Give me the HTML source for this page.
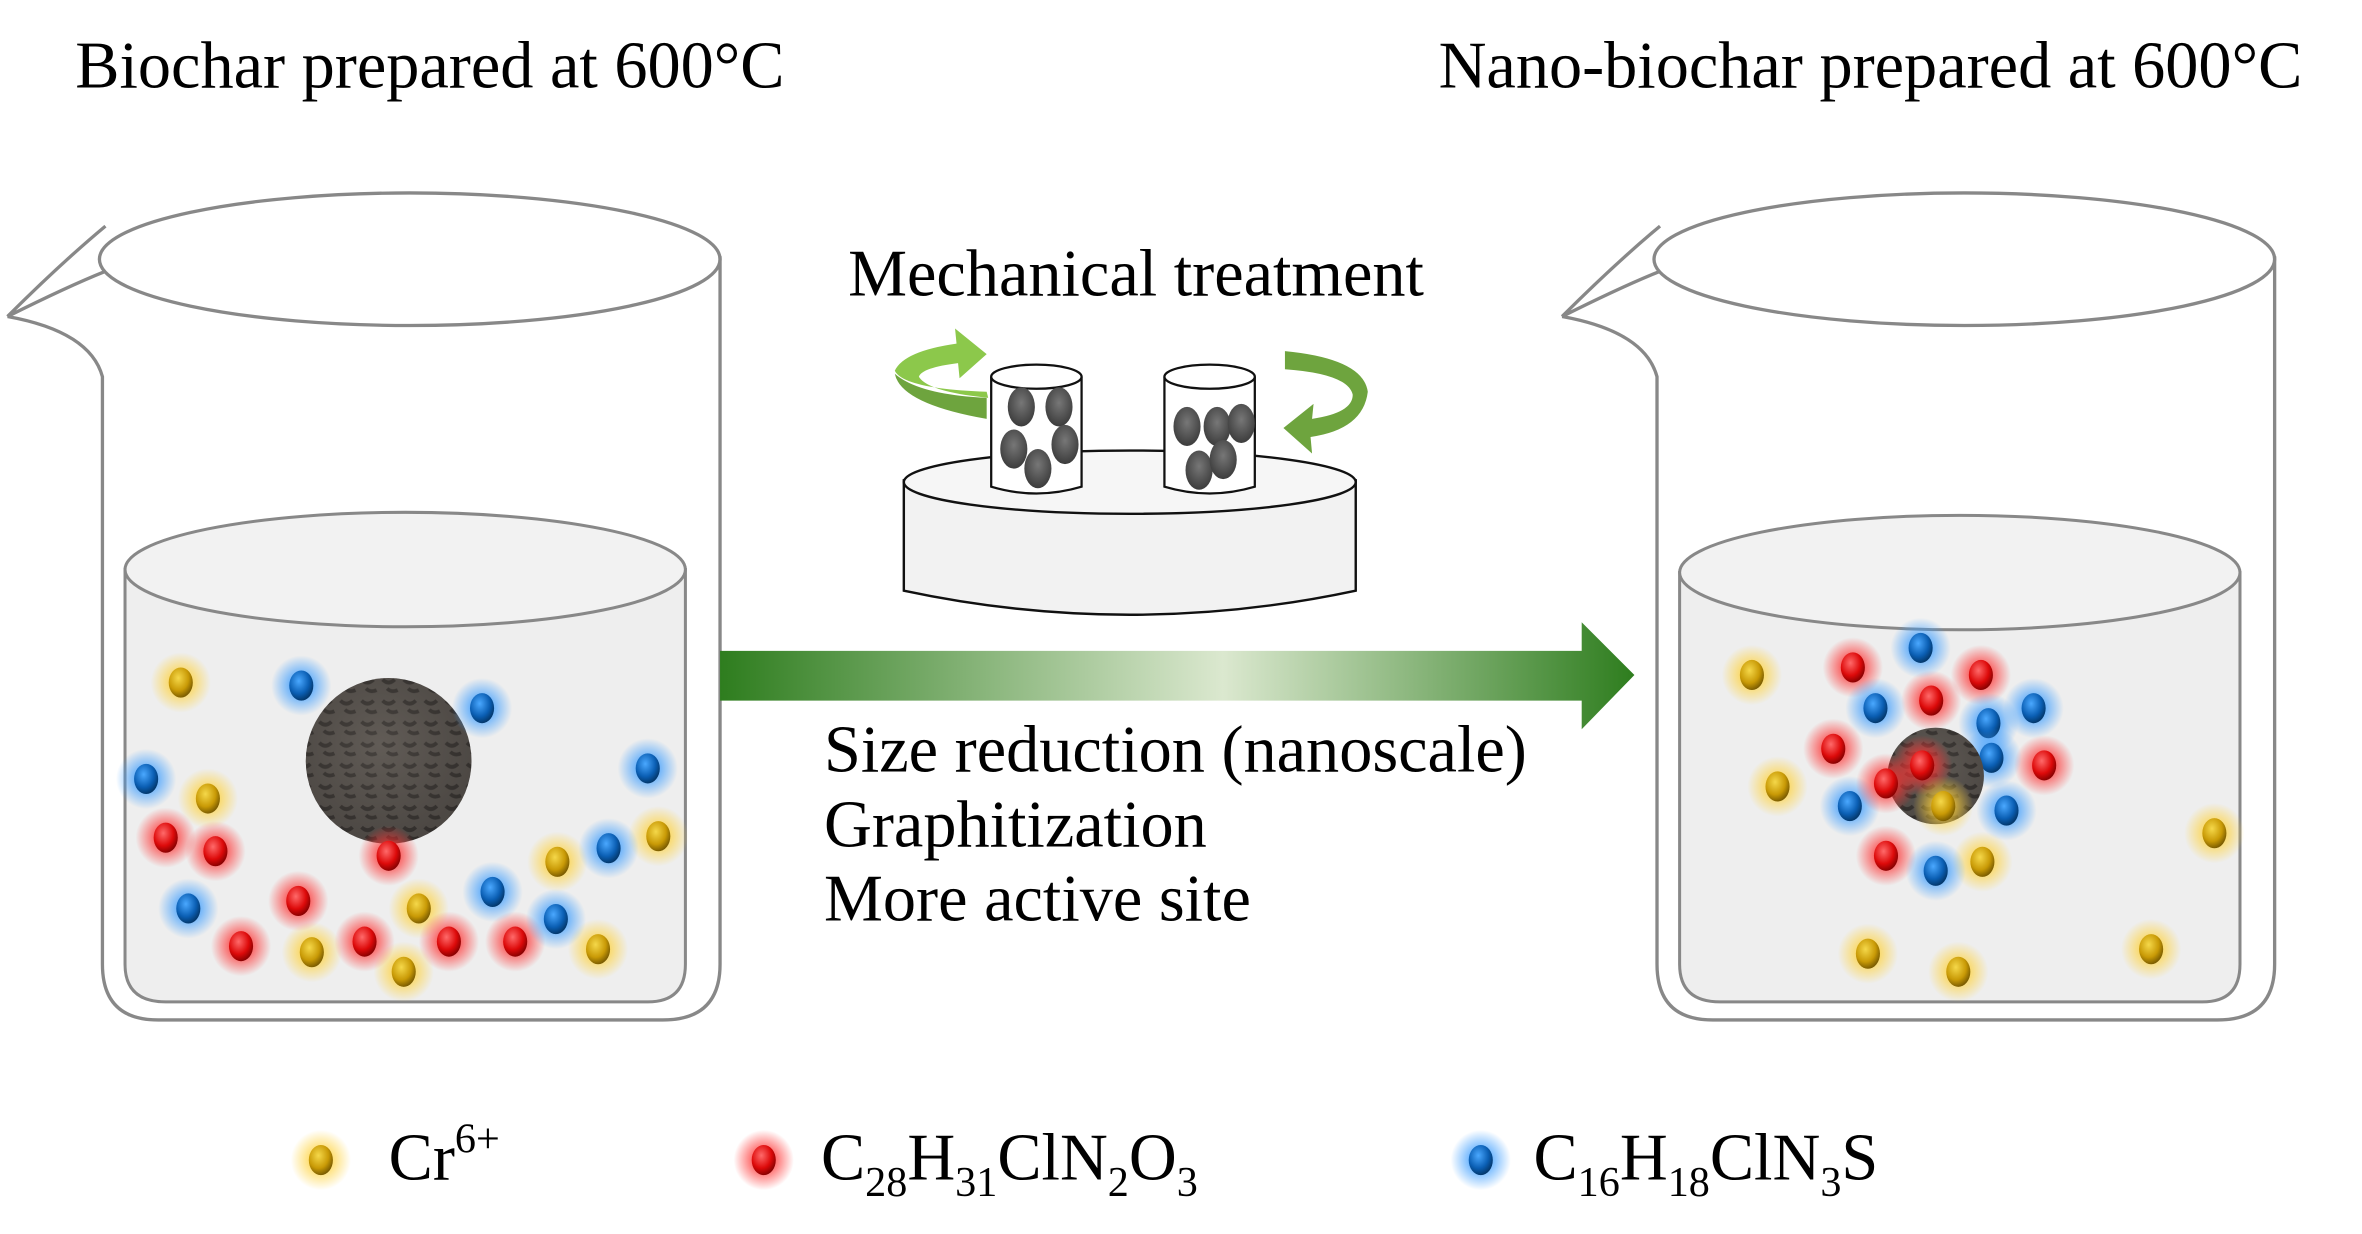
<!DOCTYPE html>
<html><head><meta charset="utf-8"><style>
html,body{margin:0;padding:0;background:#fff}
svg{display:block}
text{font-family:"Liberation Serif",serif;fill:#000}
</style></head><body>
<svg width="2362" height="1234" viewBox="0 0 1568 819" xmlns="http://www.w3.org/2000/svg">
<defs>
<linearGradient id="arr" x1="0" x2="1" y1="0" y2="0">
<stop offset="0" stop-color="#2e7d1e"/><stop offset="0.55" stop-color="#dbe8cf"/><stop offset="1" stop-color="#2e7d1e"/>
</linearGradient>
<radialGradient id="gy" cx="0.4" cy="0.35" r="0.7"><stop offset="0" stop-color="#f5d84a"/><stop offset="0.6" stop-color="#c99a06"/><stop offset="1" stop-color="#6e5200"/></radialGradient>
<radialGradient id="gr" cx="0.4" cy="0.35" r="0.7"><stop offset="0" stop-color="#ff6a6a"/><stop offset="0.6" stop-color="#dd0a0a"/><stop offset="1" stop-color="#7a0000"/></radialGradient>
<radialGradient id="gb" cx="0.4" cy="0.35" r="0.7"><stop offset="0" stop-color="#4aa8ff"/><stop offset="0.6" stop-color="#0b5fb4"/><stop offset="1" stop-color="#02315f"/></radialGradient>
<radialGradient id="hy"><stop offset="0.3" stop-color="#ffd23a" stop-opacity="0.8"/><stop offset="1" stop-color="#ffd23a" stop-opacity="0"/></radialGradient>
<radialGradient id="hr"><stop offset="0.3" stop-color="#ff3030" stop-opacity="0.8"/><stop offset="1" stop-color="#ff3030" stop-opacity="0"/></radialGradient>
<radialGradient id="hb"><stop offset="0.3" stop-color="#3a9cff" stop-opacity="0.8"/><stop offset="1" stop-color="#3a9cff" stop-opacity="0"/></radialGradient>
<g id="Y"><circle r="20" fill="url(#hy)"/><ellipse rx="8" ry="10" fill="url(#gy)"/></g>
<g id="R"><circle r="20" fill="url(#hr)"/><ellipse rx="8" ry="10" fill="url(#gr)"/></g>
<g id="B"><circle r="20" fill="url(#hb)"/><ellipse rx="8" ry="10" fill="url(#gb)"/></g>
<radialGradient id="char" cx="0.45" cy="0.4" r="0.6"><stop offset="0" stop-color="#6a645e"/><stop offset="1" stop-color="#3a3633"/></radialGradient>
<pattern id="pores" width="14" height="14" patternUnits="userSpaceOnUse"><rect width="14" height="14" fill="#5a5550"/><path d="M2 3 q4 4 8 0 M5 9 q3 3 7 1" stroke="#2a2725" stroke-width="2.5" fill="none"/></pattern>
<radialGradient id="ball" cx="0.5" cy="0.4" r="0.6"><stop offset="0" stop-color="#777"/><stop offset="1" stop-color="#3c3c3c"/></radialGradient>
</defs>

<text x="50" y="58" font-size="44">Biochar prepared at 600°C</text>
<text x="955" y="58" font-size="44">Nano-biochar prepared at 600°C</text>

<!-- left beaker -->
<g fill="none" stroke="#888" stroke-width="2.2">
<ellipse cx="272" cy="172" rx="206" ry="44"/>
<path d="M70,150 Q40,175 5,210 Q45,190 70,180"/>
<path d="M5,210 Q60,220 68,250 L68,640 Q68,677 105,677 L440,677 Q478,677 478,640 L478,170"/>
</g>
<path d="M83,378 L83,640 Q83,665 110,665 L430,665 Q455,665 455,640 L455,378 Z" fill="#eeeeee" stroke="#888" stroke-width="2"/>
<ellipse cx="269" cy="378" rx="186" ry="38" fill="#f2f2f2" stroke="#888" stroke-width="2"/>

<!-- right beaker -->
<g fill="none" stroke="#888" stroke-width="2.2">
<ellipse cx="1304" cy="172" rx="206" ry="44"/>
<path d="M1102,150 Q1072,175 1037,210 Q1077,190 1102,180"/>
<path d="M1037,210 Q1092,220 1100,250 L1100,640 Q1100,677 1137,677 L1472,677 Q1510,677 1510,640 L1510,170"/>
</g>
<path d="M1115,380 L1115,640 Q1115,665 1142,665 L1462,665 Q1487,665 1487,640 L1487,380 Z" fill="#eeeeee" stroke="#888" stroke-width="2"/>
<ellipse cx="1301" cy="380" rx="186" ry="38" fill="#f2f2f2" stroke="#888" stroke-width="2"/>

<!-- arrow -->
<path d="M478,432 L1050,432 L1050,413 L1085,448 L1050,484 L1050,465 L478,465 Z" fill="url(#arr)"/>

<!-- mill -->
<text x="563" y="196" font-size="44">Mechanical treatment</text>
<path d="M600,318 L600,392 Q750,424 900,392 L900,318" fill="#f2f2f2" stroke="#111" stroke-width="1.6"/>
<ellipse cx="750" cy="320" rx="150" ry="21" fill="#f6f6f6" stroke="#111" stroke-width="1.6"/>
<g stroke="#111" stroke-width="1.5">
<path d="M658,250 L658,323 Q688,332 718,323 L718,250" fill="#fff"/>
<ellipse cx="688" cy="250" rx="30" ry="8" fill="#fff"/>
<path d="M773,250 L773,323 Q803,332 833,323 L833,250" fill="#fff"/>
<ellipse cx="803" cy="250" rx="30" ry="8" fill="#fff"/>
</g>
<g fill="url(#ball)">
<ellipse cx="678" cy="270" rx="9" ry="13"/><ellipse cx="703" cy="270" rx="9" ry="13"/>
<ellipse cx="673" cy="298" rx="9" ry="13"/><ellipse cx="707" cy="295" rx="9" ry="13"/><ellipse cx="689" cy="311" rx="9" ry="13"/>
<ellipse cx="788" cy="283" rx="9" ry="13"/><ellipse cx="808" cy="283" rx="9" ry="13"/><ellipse cx="824" cy="281" rx="9" ry="13"/>
<ellipse cx="796" cy="312" rx="9" ry="13"/><ellipse cx="812" cy="305" rx="9" ry="13"/>
</g>
<path d="M655,260 Q600,258 594,246 Q600,233 635,228 L634,218 L655,235 L637,251 L636,241 Q612,244 610,250 Q616,260 656,264 Z" fill="#8cc84b"/>
<path d="M655,264 Q610,262 594,248 Q598,268 655,278 Z" fill="#6ea43e"/>
<path d="M853,233 Q905,238 908,260 Q905,285 870,290 L871,301 L852,284 L872,268 L871,278 Q898,274 898,262 Q895,248 853,245 Z" fill="#6ea43e"/>

<!-- left particles -->
<circle cx="258" cy="505" r="55" fill="url(#pores)"/>
<circle cx="258" cy="505" r="55" fill="url(#char)" opacity="0.45"/>
<use href="#Y" x="120" y="453"/><use href="#Y" x="138" y="530"/><use href="#Y" x="207" y="632"/><use href="#Y" x="268" y="645"/><use href="#Y" x="278" y="603"/><use href="#Y" x="370" y="572"/><use href="#Y" x="397" y="630"/><use href="#Y" x="437" y="555"/>
<use href="#R" x="110" y="556"/><use href="#R" x="143" y="565"/><use href="#R" x="198" y="598"/><use href="#R" x="242" y="625"/><use href="#R" x="298" y="625"/><use href="#R" x="342" y="625"/><use href="#R" x="160" y="628"/><use href="#R" x="258" y="568"/>
<use href="#B" x="200" y="455"/><use href="#B" x="320" y="470"/><use href="#B" x="97" y="517"/><use href="#B" x="125" y="603"/><use href="#B" x="327" y="592"/><use href="#B" x="369" y="610"/><use href="#B" x="404" y="563"/><use href="#B" x="430" y="510"/>

<!-- right particles -->
<use href="#Y" x="1163" y="448"/><use href="#Y" x="1180" y="522"/><use href="#Y" x="1470" y="553"/><use href="#Y" x="1240" y="633"/><use href="#Y" x="1300" y="645"/><use href="#Y" x="1428" y="630"/><use href="#Y" x="1316" y="572"/>
<use href="#R" x="1230" y="443"/><use href="#R" x="1315" y="448"/><use href="#R" x="1282" y="465"/><use href="#R" x="1217" y="497"/><use href="#R" x="1357" y="508"/><use href="#R" x="1252" y="568"/>
<use href="#B" x="1275" y="430"/><use href="#B" x="1245" y="470"/><use href="#B" x="1350" y="470"/><use href="#B" x="1320" y="480"/><use href="#B" x="1322" y="503"/><use href="#B" x="1228" y="535"/><use href="#B" x="1332" y="538"/><use href="#B" x="1285" y="578"/>
<circle cx="1285" cy="515" r="32" fill="url(#pores)"/>
<circle cx="1285" cy="515" r="32" fill="url(#char)" opacity="0.4"/>
<use href="#R" x="1252" y="520"/><use href="#R" x="1276" y="508"/><use href="#Y" x="1290" y="535"/>

<!-- text -->
<text x="547" y="512" font-size="44">Size reduction (nanoscale)</text>
<text x="547" y="562" font-size="44">Graphitization</text>
<text x="547" y="611" font-size="44">More active site</text>

<!-- legend -->
<use href="#Y" x="213" y="770"/>
<text x="258" y="783" font-size="44">Cr<tspan font-size="28" dy="-18">6+</tspan></text>
<use href="#R" x="507" y="770"/>
<text x="545" y="783" font-size="44">C<tspan font-size="28" dy="11">28</tspan><tspan dy="-11">H</tspan><tspan font-size="28" dy="11">31</tspan><tspan dy="-11">ClN</tspan><tspan font-size="28" dy="11">2</tspan><tspan dy="-11">O</tspan><tspan font-size="28" dy="11">3</tspan></text>
<use href="#B" x="983" y="770"/>
<text x="1018" y="783" font-size="44">C<tspan font-size="28" dy="11">16</tspan><tspan dy="-11">H</tspan><tspan font-size="28" dy="11">18</tspan><tspan dy="-11">ClN</tspan><tspan font-size="28" dy="11">3</tspan><tspan dy="-11">S</tspan></text>
</svg>
</body></html>
